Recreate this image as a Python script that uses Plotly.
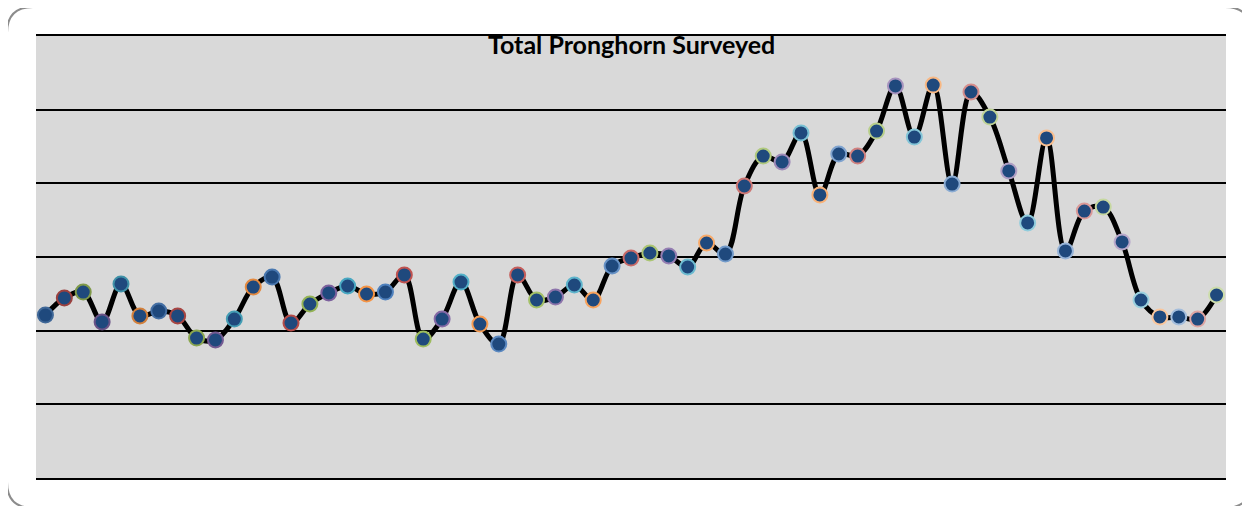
import plotly.graph_objects as go

title = "Total Pronghorn Surveyed"

# one value per survey (no axis labels in the original)
surveys = list(range(1, 64))
counts = [1106, 1222, 1262, 1059, 1317, 1100, 1133, 1100, 950, 937,
          1079, 1296, 1364, 1052, 1181, 1256, 1303, 1249, 1262, 1378,
          943, 1079, 1330, 1045, 909, 1378, 1208, 1228, 1310, 1208,
          1439, 1493, 1527, 1507, 1432, 1595, 1520, 1982, 2185, 2145,
          2342, 1921, 2199, 2185, 2355, 2661, 2314, 2667, 1995, 2620,
          2450, 2084, 1731, 2308, 1541, 1812, 1839, 1602, 1208, 1093,
          1093, 1079, 1242]

y_ticks = [0, 500, 1000, 1500, 2000, 2500, 3000]

accents = [(79, 129, 189), (192, 80, 77), (155, 187, 89),
           (128, 100, 162), (75, 172, 198), (247, 150, 70)]


def vary(rgb, t):
    # t < 0 darkens, t > 0 lightens (office style point colours)
    if t < 0:
        return 'rgb({},{},{})'.format(*[int(c * (1 + t)) for c in rgb])
    return 'rgb({},{},{})'.format(*[int(c + (255 - c) * t) for c in rgb])


n = len(counts)
edge_colors = [vary(accents[i % 6], -0.2 + 0.7 * i / (n - 1)) for i in range(n)]

fig = go.Figure()
fig.add_trace(go.Scatter(
    x=surveys, y=counts,
    mode='lines+markers',
    line=dict(color='black', width=5, shape='spline', smoothing=1),
    marker=dict(color='#1F497D', size=15,
                line=dict(color=edge_colors, width=2)),
    showlegend=False,
))

# the page body adds an 8px offset, so everything is placed 8px up/left
OFF = 8
L, R, T, B = 36 - OFF, 1226 - OFF, 36 - OFF, 478 - OFF
W, H = 1250, 506


def px(x):
    return (x - OFF - L) / (R - L)


def py(y):
    return (B - (y - OFF)) / (B - T)


# rounded outer frame (page pixel coords), right and bottom run off the page
x0, x1, y0, y1, r = 7, 1251, 7, 508, 26
path = ('M {a},{b} L {c},{b} Q {d},{b} {d},{e} L {d},{f} Q {d},{g} {c},{g} '
        'L {a},{g} Q {h},{g} {h},{f} L {h},{e} Q {h},{b} {a},{b} Z').format(
    a=px(x0 + r), b=py(y0), c=px(x1 - r), d=px(x1), e=py(y0 + r),
    f=py(y1 - r), g=py(y1), h=px(x0))

fig.update_layout(
    width=W, height=H,
    margin=dict(l=L, r=W - R, t=T, b=H - B, pad=0),
    paper_bgcolor='white',
    plot_bgcolor='#D9D9D9',
    xaxis=dict(range=[0.5, n + 0.5], showgrid=False, showticklabels=False,
               zeroline=False, showline=True, mirror=True,
               linecolor='black', linewidth=2, ticks=''),
    yaxis=dict(range=[0, 3000], tickvals=y_ticks, showgrid=True,
               gridcolor='black', gridwidth=1.5, showticklabels=False,
               zeroline=False, ticks=''),
    shapes=[dict(type='path', xref='paper', yref='paper', path=path,
                 line=dict(color='#8C8C8C', width=2))],
    annotations=[dict(xref='paper', yref='paper', x=0.5, y=py(44),
                      xanchor='center', yanchor='middle', text='<b>' + title + '</b>',
                      font=dict(family='Lato', size=25, color='black'),
                      showarrow=False)],
)

fig.write_html("out.html")
